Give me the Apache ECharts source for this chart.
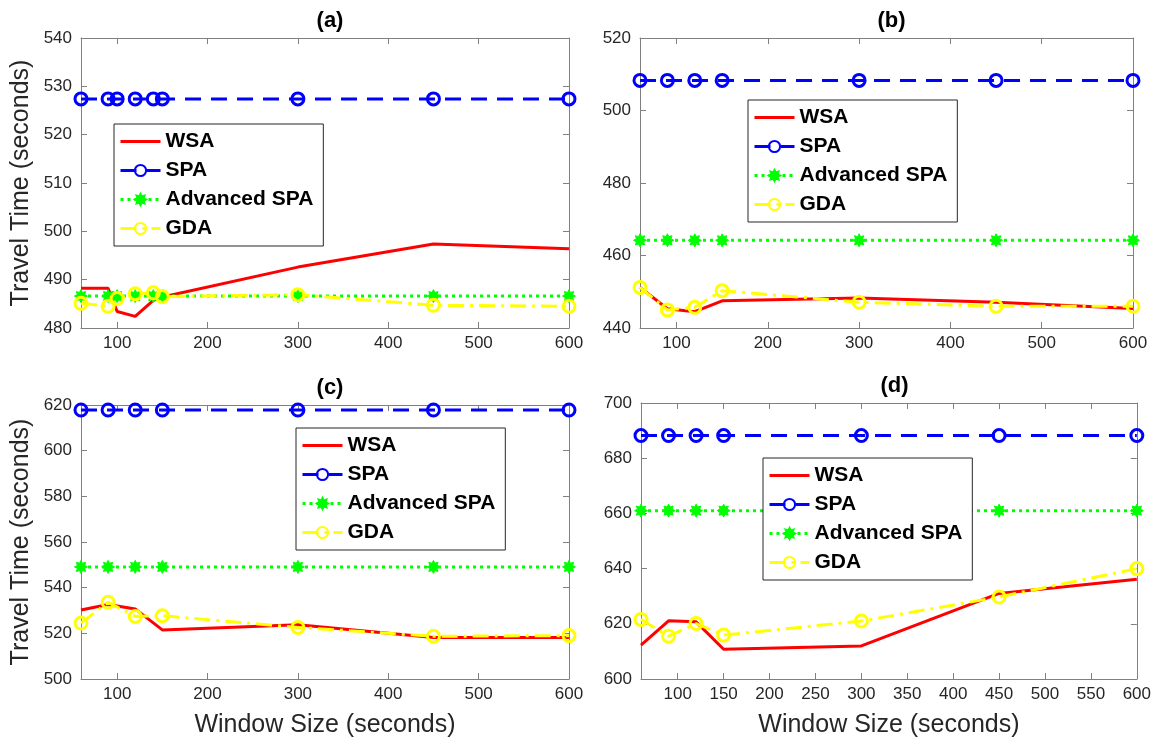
<!DOCTYPE html>
<html>
<head>
<meta charset="utf-8">
<script src="https://cdn.jsdelivr.net/npm/echarts@6/dist/echarts.min.js"></script>
<style>
  html, body { margin: 0; padding: 0; background: #fff; }
  #chart { width: 1154px; height: 745px; }
</style>
</head>
<body>
<div id="chart"></div>
<script>
// window sizes (seconds)
const xA = [60, 90, 100, 120, 140, 150, 300, 450, 600]
const xB = [60, 90, 120, 150, 300, 450, 600]
const xC = [60, 90, 120, 150, 300, 450, 600]
const xD = [60, 90, 120, 150, 300, 450, 600]

// (a)
const wsaA = [488.2, 488.2, 483.4, 482.4, 485.7, 486.4, 492.6, 497.4, 496.4]
const spaA = [527.4, 527.4, 527.4, 527.4, 527.4, 527.4, 527.4, 527.4, 527.4]
const advA = [486.6, 486.6, 486.6, 486.6, 486.6, 486.6, 486.6, 486.6, 486.6]
const gdaA = [485.1, 484.5, 486.1, 487.1, 487.3, 486.5, 486.9, 484.7, 484.5]
// (b)
const wsaB = [451.2, 445.3, 444.5, 447.5, 448.3, 447.1, 445.4]
const spaB = [508.3, 508.3, 508.3, 508.3, 508.3, 508.3, 508.3]
const advB = [464.2, 464.2, 464.2, 464.2, 464.2, 464.2, 464.2]
const gdaB = [451.2, 445.0, 445.7, 450.3, 447.1, 446.0, 446.0]
// (c)
const wsaC = [530.2, 532.6, 530.7, 521.5, 523.8, 518.2, 518.2]
const spaC = [617.8, 617.8, 617.8, 617.8, 617.8, 617.8, 617.8]
const advC = [549.1, 549.1, 549.1, 549.1, 549.1, 549.1, 549.1]
const gdaC = [524.5, 533.6, 527.4, 527.7, 522.6, 518.7, 519.0]
// (d)
const wsaD = [612.3, 621.1, 620.7, 610.8, 612.0, 631.0, 636.1]
const spaD = [688.2, 688.2, 688.2, 688.2, 688.2, 688.2, 688.2]
const advD = [661.0, 661.0, 661.0, 661.0, 661.0, 661.0, 661.0]
const gdaD = [621.6, 615.5, 620.1, 615.9, 621.0, 629.7, 640.0]

// tick labels
const xTicksABC = [100, 200, 300, 400, 500, 600]
const xTicksD = [100, 150, 200, 250, 300, 350, 400, 450, 500, 550, 600]
const yRanges = [[480, 540, 10], [440, 520, 20], [500, 620, 20], [600, 700, 20]]
const titles = ['(a)', '(b)', '(c)', '(d)']
const names = ['WSA', 'SPA', 'Advanced SPA', 'GDA']

const FONT = "'Liberation Sans', Arial, Helvetica, sans-serif"
const AXIS_COLOR = '#808080'
const TEXT_COLOR = '#262626'

// subplot boxes in px
const boxes = [
  { left: 81, top: 38, width: 488, height: 290 },
  { left: 640, top: 38, width: 493, height: 290 },
  { left: 81, top: 405, width: 488, height: 274 },
  { left: 641, top: 403, width: 497, height: 276 },
]
const legendPos = [
  { left: 114, top: 124 },
  { left: 748, top: 100 },
  { left: 296, top: 428 },
  { left: 763, top: 458 },
]

// asterisk-like marker
const STAR = 'path://M100 50 L77.72 61.48 L85.36 85.36 L61.48 77.72 L50 100 L38.52 77.72 L14.64 85.36 L22.28 61.48 L0 50 L22.28 38.52 L14.64 14.64 L38.52 22.28 L50 0 L61.48 22.28 L85.36 14.64 L77.72 38.52 Z'

function pairs(xs, ys) {
  return xs.map((x, i) => [x, ys[i]])
}

function makeSeries(gi, xs, wsa, spa, adv, gda) {
  return [
    {
      name: 'WSA', type: 'line', xAxisIndex: gi * 2, yAxisIndex: gi * 2,
      data: pairs(xs, wsa), symbol: 'none',
      lineStyle: { color: '#ff0000', width: 3 },
      itemStyle: { color: '#ff0000' },
    },
    {
      name: 'SPA', type: 'line', xAxisIndex: gi * 2, yAxisIndex: gi * 2,
      data: pairs(xs, spa), symbol: 'circle', symbolSize: 12,
      lineStyle: { color: '#0000ff', width: 3, type: [16, 10] },
      itemStyle: { color: 'rgba(255,255,255,0)', borderColor: '#0000ff', borderWidth: 3 },
    },
    {
      name: 'Advanced SPA', type: 'line', xAxisIndex: gi * 2, yAxisIndex: gi * 2,
      data: pairs(xs, adv), symbol: STAR, symbolSize: 13,
      lineStyle: { color: '#00ff00', width: 3, type: [3, 4] },
      itemStyle: { color: '#00ff00', borderColor: '#00ff00', borderWidth: 1 },
    },
    {
      name: 'GDA', type: 'line', xAxisIndex: gi * 2, yAxisIndex: gi * 2,
      data: pairs(xs, gda), symbol: 'circle', symbolSize: 12,
      lineStyle: { color: '#ffff00', width: 3, type: [16, 6, 3, 6] },
      itemStyle: { color: 'rgba(255,255,255,0)', borderColor: '#ffff00', borderWidth: 3 },
    },
  ]
}

const tickStyle = { color: AXIS_COLOR, width: 1 }
const xAxes = []
const yAxes = []
boxes.forEach((b, gi) => {
  const ticks = gi === 3 ? xTicksD : xTicksABC
  const [ymin, ymax, yint] = yRanges[gi]
  xAxes.push({
    type: 'value', gridIndex: gi, position: 'bottom', min: 60, max: 600,
    axisLine: { show: true, lineStyle: tickStyle },
    axisTick: { show: true, inside: true, length: 6, customValues: ticks, lineStyle: tickStyle },
    axisLabel: { customValues: ticks, color: TEXT_COLOR, fontSize: 17, fontFamily: FONT, margin: 7 },
    splitLine: { show: false },
    name: gi >= 2 ? 'Window Size (seconds)' : '',
    nameLocation: 'middle', nameGap: 34,
    nameTextStyle: { color: TEXT_COLOR, fontSize: 25, fontFamily: FONT },
  })
  // mirrored top edge
  xAxes.push({
    type: 'value', gridIndex: gi, position: 'top', min: 60, max: 600,
    axisLine: { show: true, lineStyle: tickStyle },
    axisTick: { show: true, inside: true, length: 6, customValues: ticks, lineStyle: tickStyle },
    axisLabel: { show: false },
    splitLine: { show: false },
  })
  yAxes.push({
    type: 'value', gridIndex: gi, position: 'left', min: ymin, max: ymax, interval: yint,
    axisLine: { show: true, lineStyle: tickStyle },
    axisTick: { show: true, inside: true, length: 6, lineStyle: tickStyle },
    axisLabel: { color: TEXT_COLOR, fontSize: 17, fontFamily: FONT, margin: 9 },
    splitLine: { show: false },
    name: gi % 2 === 0 ? 'Travel Time (seconds)' : '',
    nameLocation: 'middle', nameGap: 47, nameRotate: 90,
    nameTextStyle: { color: TEXT_COLOR, fontSize: 25, fontFamily: FONT },
  })
  // mirrored right edge
  yAxes.push({
    type: 'value', gridIndex: gi, position: 'right', min: ymin, max: ymax, interval: yint,
    axisLine: { show: true, lineStyle: tickStyle },
    axisTick: { show: true, inside: true, length: 6, lineStyle: tickStyle },
    axisLabel: { show: false },
    splitLine: { show: false },
  })
})

const option = {
  animation: false,
  backgroundColor: '#fff',
  textStyle: { fontFamily: FONT },
  title: boxes.map((b, gi) => ({
    text: titles[gi],
    left: b.left + b.width / 2,
    top: b.top - 33,
    textAlign: 'center',
    textStyle: { fontSize: 22, fontWeight: 'bold', color: '#000', fontFamily: FONT },
  })),
  legend: legendPos.map(p => ({
    left: p.left, top: p.top, orient: 'vertical',
    data: [
      { name: 'WSA', icon: 'path://M0 0 L40 0 L40 3 L0 3 Z' },
      'SPA', 'Advanced SPA', 'GDA',
    ],
    itemWidth: 40, itemHeight: 14, itemGap: 8,
    padding: [7, 10, 7, 5],
    borderColor: '#262626', borderWidth: 1, backgroundColor: '#fff',
    selectedMode: false,
    lineStyle: { width: 3 },
    textStyle: { fontSize: 21, fontWeight: 'bold', color: '#000', lineHeight: 21, fontFamily: FONT },
  })),
  grid: boxes.map(b => ({ ...b, containLabel: false })),
  xAxis: xAxes,
  yAxis: yAxes,
  series: [
    ...makeSeries(0, xA, wsaA, spaA, advA, gdaA),
    ...makeSeries(1, xB, wsaB, spaB, advB, gdaB),
    ...makeSeries(2, xC, wsaC, spaC, advC, gdaC),
    ...makeSeries(3, xD, wsaD, spaD, advD, gdaD),
  ],
}

const chart = echarts.init(document.getElementById('chart'))
chart.setOption(option)
</script>
</body>
</html>
